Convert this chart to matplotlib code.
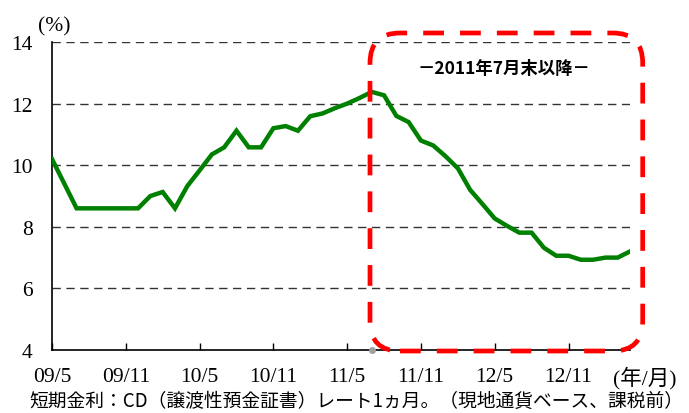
import matplotlib
matplotlib.use("Agg")
import matplotlib.pyplot as plt
from matplotlib.patches import FancyBboxPatch
from matplotlib.transforms import IdentityTransform

# ---- data (monthly, 2009/5 .. 2013/4) ----
rates = [10.2, 9.4, 8.6, 8.6, 8.6, 8.6, 8.6, 8.6, 9.0, 9.13, 8.6, 9.32,
         9.83, 10.35, 10.58, 11.12, 10.58, 10.58, 11.2, 11.27, 11.12, 11.59, 11.68, 11.85,
         12.0, 12.18, 12.38, 12.27, 11.6, 11.4, 10.8, 10.64, 10.29, 9.9, 9.2, 8.74,
         8.27, 8.03, 7.81, 7.81, 7.32, 7.06, 7.06, 6.93, 6.93, 7.0, 7.0, 7.2]
tick_labels = ["09/5", "09/11", "10/5", "10/11", "11/5", "11/11", "12/5", "12/11"]
tick_step = 6
marker_month = 26  # 2011/7
yticks = [4, 6, 8, 10, 12, 14]
box_text = "－2011年7月末以降－"
caption = "短期金利：CD（譲渡性預金証書）レート1ヵ月。（現地通貨ベース、課税前）"

serif = ["Liberation Serif", "Noto Sans CJK JP"]
cjk = ["Noto Sans CJK JP", "DejaVu Sans"]
FS = 15.5

W, H = 689, 414
fig = plt.figure(figsize=(W / 100, H / 100), dpi=100)
ax = fig.add_axes([52 / W, (H - 351) / H, (630 - 52) / W, (351 - 43) / H])

x = list(range(len(rates)))
ax.plot(x, rates, color="#008000", lw=3.2, solid_joinstyle="miter", zorder=3)

ax.set_xlim(0, len(rates) - 1)
ax.set_ylim(4, 14)

for y in yticks[1:]:
    ax.axhline(y, color="#333333", lw=1.0, ls=(0, (6, 4)), zorder=1)

ax.set_yticks(yticks)
ax.set_yticklabels([str(v) for v in yticks], family=serif, fontsize=FS)
ax.tick_params(axis="y", length=0, pad=14)

xt = [i * tick_step for i in range(len(tick_labels))]
ax.set_xticks(xt)
ax.set_xticklabels(tick_labels, family=serif, fontsize=FS)
ax.tick_params(axis="x", direction="in", length=5, width=1, pad=12)

for s in ["top", "right"]:
    ax.spines[s].set_visible(False)
for s in ["left", "bottom"]:
    ax.spines[s].set_linewidth(1.2)
    ax.spines[s].set_color("black")

ax.plot(marker_month, 4, "o", color="#a0a0a0", ms=4, clip_on=False, zorder=5)

ax.annotate("(年/月)", xy=(48.2, 0), xycoords=("data", "axes fraction"),
            xytext=(0, -19.5), textcoords="offset points",
            ha="center", va="center", family=serif, fontsize=FS, annotation_clip=False)

fig.text(54 / W, (H - 27) / H, "(%)", family=serif, fontsize=FS, ha="center", va="center")

# red dashed rounded box
box = FancyBboxPatch((370, H - 352), 642.7 - 370, 352 - 34,
                     boxstyle="round,pad=0,rounding_size=30",
                     transform=IdentityTransform(), fill=False, ec="#ff0000",
                     lw=3.4, ls=(0, (4.4, 3.4)), clip_on=False, zorder=10)
box.set_capstyle("butt")
fig.add_artist(box)

fig.text(503.5 / W, (H - 69) / H, box_text, family=cjk, fontsize=12.5,
         fontweight="bold", ha="center", va="center")

fig.text(356 / W, (H - 401) / H, caption, family=cjk, fontsize=13.5,
         ha="center", va="center")

fig.savefig("out.png", dpi=100)
